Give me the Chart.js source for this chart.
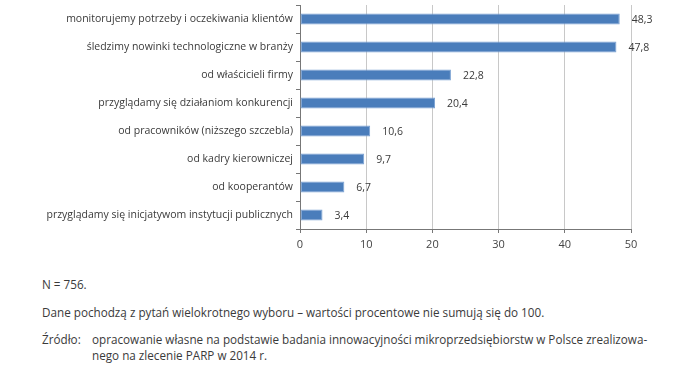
<!DOCTYPE html>
<html><head><meta charset="utf-8">
<script src="https://cdn.jsdelivr.net/npm/chart.js@4"></script>
<style>
html,body{margin:0;padding:0;background:#fff;width:700px;height:380px;overflow:hidden;font-family:"Open Sans",sans-serif;color:#333;}
#wrap{position:absolute;left:0;top:0;width:700px;height:258px;}
.note{position:absolute;font-size:11.7px;line-height:16px;color:#3a3a3a;white-space:nowrap;}
</style></head><body>
<div id="wrap"><canvas id="c" width="700" height="258"></canvas></div>
<div class="note" style="left:42px;top:276px;">N = 756.</div>
<div class="note" style="left:42px;top:304px;">Dane pochodzą z pytań wielokrotnego wyboru – wartości procentowe nie sumują się do 100.</div>
<div class="note" style="left:42px;top:331px;">Źródło:</div>
<div class="note" style="left:92px;top:331px;">opracowanie własne na podstawie badania innowacyjności mikroprzedsiębiorstw w Polsce zrealizowa-</div>
<div class="note" style="left:92px;top:347px;">nego na zlecenie PARP w 2014 r.</div>
<script>
const categories = [
  "monitorujemy potrzeby i oczekiwania klientów",
  "śledzimy nowinki technologiczne w branży",
  "od właścicieli firmy",
  "przyglądamy się działaniom konkurencji",
  "od pracowników (niższego szczebla)",
  "od kadry kierowniczej",
  "od kooperantów",
  "przyglądamy się inicjatywom instytucji publicznych"
];
const values = [48.3, 47.8, 22.8, 20.4, 10.6, 9.7, 6.7, 3.4];
const xTicks = [0, 10, 20, 30, 40, 50];

const labelPlugin = {
  id: 'valueLabels',
  afterDatasetsDraw(chart) {
    const ctx = chart.ctx;
    const meta = chart.getDatasetMeta(0);
    ctx.save();
    ctx.font = '10.5px "Open Sans"';
    ctx.fillStyle = '#3a3a3a';
    ctx.textBaseline = 'middle';
    ctx.textAlign = 'left';
    meta.data.forEach((bar, i) => {
      ctx.fillText(values[i].toFixed(1).replace('.', ','), bar.x + 12, bar.y + 1);
    });
    ctx.restore();
  }
};

new Chart(document.getElementById('c'), {
  type: 'bar',
  data: {
    labels: categories,
    datasets: [{
      data: values,
      backgroundColor: '#4a7dbb',
      borderColor: '#7ba2d3',
      borderWidth: 1,
      borderSkipped: false,
      categoryPercentage: 1,
      barPercentage: 0.4
    }]
  },
  options: {
    indexAxis: 'y',
    responsive: false,
    animation: false,
    devicePixelRatio: 1,
    layout: { padding: { top: 5, right: 69, left: 0, bottom: 0 } },
    plugins: { legend: { display: false }, tooltip: { enabled: false } },
    scales: {
      x: {
        min: 0, max: 50,
        afterBuildTicks: s => { s.ticks = xTicks.map(v => ({ value: v })); },
        afterFit: s => { s.height = 29; s.paddingLeft = 0; s.paddingRight = 0; },
        grid: { color: '#c8c8c8', lineWidth: 1, tickColor: '#777', tickLength: 4, drawTicks: true },
        border: { color: '#777', width: 1 },
        ticks: { color: '#444', font: { family: 'Open Sans', size: 11 }, padding: 5 }
      },
      y: {
        afterFit: s => { s.width = 300; s.paddingTop = 0; s.paddingBottom = 0; },
        grid: { offset: true, drawOnChartArea: false, tickColor: '#777', tickLength: 4 },
        border: { color: '#777', width: 1 },
        ticks: { color: '#3a3a3a', font: { family: 'Open Sans', size: 10.5 }, padding: 3 }
      }
    }
  },
  plugins: [labelPlugin]
});
</script>
</body></html>
